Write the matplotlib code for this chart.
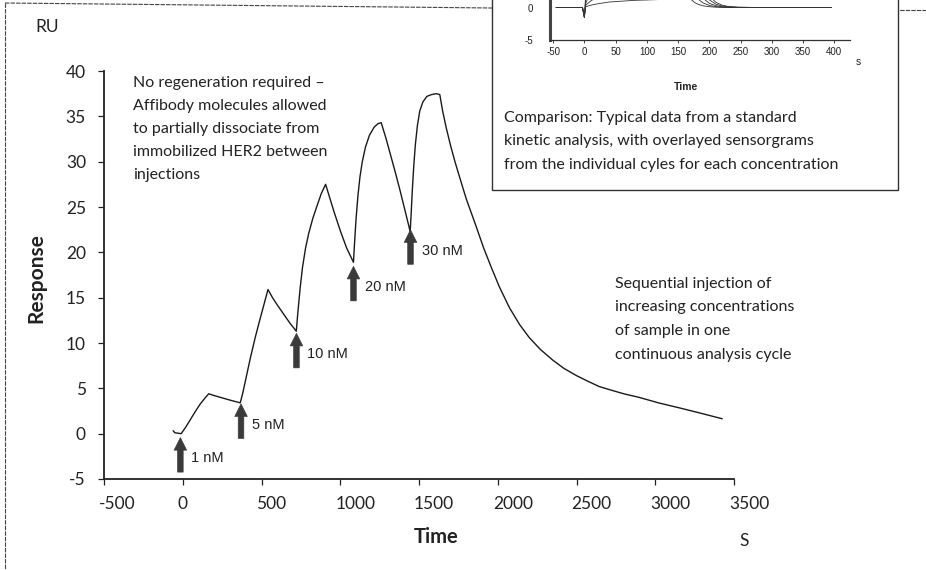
import numpy as np
import matplotlib
matplotlib.use('Agg')
import matplotlib.pyplot as plt
from matplotlib.lines import Line2D
from matplotlib.patches import Rectangle
from matplotlib.transforms import ScaledTranslation

plt.rcParams['font.family'] = ['Lato', 'DejaVu Sans']
plt.rcParams['axes.unicode_minus'] = False

# single-cycle sensorgram, time (s) and response (RU)
time = [-60, -50, -10, 20, 50, 80, 110, 140, 165, 200, 250, 300, 365,
        380, 400, 430, 460, 490, 515, 541, 570, 600, 640, 680, 721,
        730, 745, 760, 780, 800, 825, 850, 880, 907,
        930, 960, 1000, 1040, 1084,
        1090, 1100, 1112, 1125, 1140, 1160, 1185, 1215, 1240, 1260,
        1290, 1320, 1350, 1380, 1410, 1444,
        1450, 1458, 1467, 1477, 1490, 1505, 1525, 1550, 1580, 1610, 1632,
        1650, 1672, 1700, 1730, 1756, 1800, 1862, 1910, 1960, 2010, 2074,
        2140, 2200, 2270, 2350, 2420, 2500, 2570, 2644, 2720, 2800, 2898,
        3020, 3152, 3290, 3424]
response = [0.3, 0.1, 0.0, 0.75, 1.6, 2.45, 3.25, 3.9, 4.4, 4.2, 3.95, 3.7, 3.4,
            4.4, 6.0, 8.4, 10.6, 12.6, 14.2, 15.9, 15.0, 14.2, 13.2, 12.2, 11.3,
            13.2, 16.0, 18.3, 20.5, 22.1, 23.7, 25.0, 26.5, 27.5,
            26.2, 24.5, 22.4, 20.5, 18.9,
            20.8, 23.6, 26.2, 28.3, 30.0, 31.6, 32.9, 33.8, 34.2, 34.3,
            32.6, 30.7, 28.8, 26.8, 24.7, 22.3,
            24.2, 27.0, 29.6, 31.9, 34.0, 35.6, 36.6, 37.2, 37.4, 37.5, 37.4,
            35.6, 33.8, 31.8, 29.9, 28.4, 25.9, 22.9, 20.5, 18.3, 16.2, 13.9,
            12.0, 10.6, 9.3, 8.1, 7.2, 6.4, 5.8, 5.2, 4.8, 4.4, 4.0,
            3.4, 2.85, 2.25, 1.65]

inj_times = [-15, 370, 722, 1084, 1446]
inj_labels = ['1 nM', '5 nM', '10 nM', '20 nM', '30 nM']

# inset: overlayed sensorgrams from a standard multi-cycle run
inset_time = [-45, -20, -3, 0, 2, 5, 10, 20, 40, 80, 130, 170,
              175, 180, 185, 190, 200, 210, 220, 230, 245, 270, 320, 395]
inset_c1 = [0, 0, 0, -1.5, 0.1, 0.2, 0.35, 0.55, 0.85, 1.1, 1.25, 1.3,
            0.87, 0.58, 0.39, 0.26, 0.12, 0.05, 0.02, 0.01, 0, 0, 0, 0]
inset_c2 = [0, 0, 0, -1.5, 0.3, 0.6, 1.0, 1.6, 2.4, 3.1, 3.4, 3.5,
            2.35, 1.57, 1.05, 0.7, 0.32, 0.14, 0.06, 0.03, 0.01, 0, 0, 0]
inset_c3 = [0, 0, 0, -1.5, 0.6, 1.3, 2.2, 3.5, 5.0, 6.3, 6.9, 7.0,
            4.7, 3.14, 2.1, 1.41, 0.64, 0.29, 0.13, 0.06, 0.02, 0, 0, 0]
inset_c4 = [0, 0, 0, -1.5, 1.1, 2.5, 4.3, 7.0, 10.0, 12.2, 12.9, 13.0,
            8.7, 5.8, 3.9, 2.6, 1.18, 0.53, 0.24, 0.11, 0.03, 0.01, 0, 0]
inset_c5 = [0, 0, 0, -1.5, 1.8, 4.0, 7.0, 11.0, 15.5, 18.8, 19.8, 20.0,
            13.4, 9.0, 6.0, 4.0, 1.8, 0.82, 0.37, 0.16, 0.05, 0.01, 0, 0]

note_left = ['No regeneration required \u2013',
             'Affibody molecules allowed',
             'to partially dissociate from',
             'immobilized HER2 between',
             'injections']
note_right = ['Sequential injection of',
              'increasing concentrations',
              'of sample in one',
              'continuous analysis cycle']
note_box = ['Comparison: Typical data from a standard',
            'kinetic analysis, with overlayed sensorgrams',
            'from the individual cyles for each concentration']

W, H = 926, 570
fig = plt.figure(figsize=(W / 100, H / 100), dpi=100)


def fx(px):
    return px / W


def fy(py):
    return 1 - py / H


ink = '#222222'

# main axes
ax = fig.add_axes([fx(104), fy(479), fx(734) - fx(104), fy(71) - fy(479)])
ax.patch.set_visible(False)
ax.plot(time, response, color='#1a1a1a', lw=1.0)
ax.set_xlim(-500, 3500)
ax.set_ylim(-5, 40)
ax.set_xticks(range(-500, 3501, 500))
ax.set_yticks(range(-5, 41, 5))
for s in ['top', 'right']:
    ax.spines[s].set_visible(False)
for s in ['left', 'bottom']:
    ax.spines[s].set_linewidth(1.3)
    ax.spines[s].set_color(ink)
ax.tick_params(axis='both', direction='out', length=4, width=0.9,
               labelsize=12.5, colors=ink)
ax.tick_params(axis='y', pad=9)
ax.tick_params(axis='x', pad=8)
shift = ScaledTranslation(-5 / 100, 0, fig.dpi_scale_trans)
for lbl in ax.get_xticklabels():
    lbl.set_horizontalalignment('left')
    lbl.set_transform(lbl.get_transform() + shift)

# injection arrows
for t, lab in zip(inj_times, inj_labels):
    y_tip = np.interp(t, time, response) - 0.45
    ax.annotate('', xy=(t, y_tip), xytext=(t, y_tip - 3.8),
                arrowprops=dict(arrowstyle='simple,head_length=0.9,head_width=0.9,tail_width=0.4',
                                mutation_scale=10, fc='#3a3a3a', ec='#3a3a3a',
                                lw=0.5, shrinkA=0, shrinkB=0))
    ax.text(t + 70, y_tip - 2.3, lab, fontsize=10.5, family='Liberation Sans',
            va='center', ha='left', color=ink)

# axis labels
fig.text(fx(47), fy(27), 'RU', fontsize=12.5, color=ink, ha='center', va='center')
fig.text(fx(36), fy(278), 'Response', fontsize=15, fontweight='bold', color=ink,
         rotation=90, ha='center', va='center')
fig.text(fx(436), fy(537), 'Time', fontsize=14.5, fontweight='bold', color=ink,
         ha='center', va='center')
fig.text(fx(744), fy(541), 'S', fontsize=12.5, color=ink, ha='center', va='center')

for i, line in enumerate(note_left):
    fig.text(fx(133), fy(83 + i * 23), line, fontsize=11.5, color=ink, va='center')
for i, line in enumerate(note_right):
    fig.text(fx(615), fy(284 + i * 23.5), line, fontsize=11.5, color=ink, va='center')

# frame lines of the page
fig.add_artist(Line2D([fx(5), fx(5)], [fy(3), fy(570)], transform=fig.transFigure,
                      color='#444444', lw=0.8, ls=(0, (4, 1))))
fig.add_artist(Line2D([fx(5), fx(492)], [fy(3), fy(8)], transform=fig.transFigure,
                      color='#444444', lw=0.8, ls=(0, (4, 1))))
fig.add_artist(Line2D([fx(883), fx(926)], [fy(10), fy(10)], transform=fig.transFigure,
                      color='#444444', lw=0.8, ls=(0, (4, 1))))

# comparison box
box = Rectangle((fx(492), fy(190)), fx(898) - fx(492), fy(-5) - fy(190),
                transform=fig.transFigure, fc='white', ec='#333333', lw=1.0, zorder=2)
fig.add_artist(box)
for i, line in enumerate(note_box):
    fig.text(fx(504), fy(118 + i * 23.5), line, fontsize=11.5, color=ink,
             va='center', zorder=4)

ins = fig.add_axes([fx(550), fy(40), fx(850) - fx(550), 30 * 6.5 / H], zorder=3)
ins.patch.set_visible(False)
for c in [inset_c1, inset_c2, inset_c3, inset_c4, inset_c5]:
    ins.plot(inset_time, c, color='#333333', lw=0.6)
ins.set_xlim(-55, 425)
ins.set_ylim(-5, 25)
ins.set_xticks(range(-50, 401, 50))
ins.set_yticks([-5, 0])
for s in ['top', 'right']:
    ins.spines[s].set_visible(False)
ins.spines['left'].set_linewidth(2.2)
ins.spines['left'].set_color('#444444')
ins.spines['bottom'].set_linewidth(0.9)
ins.spines['bottom'].set_color('#333333')
ins.tick_params(axis='both', direction='out', length=2, width=0.6, labelsize=7,
                colors=ink, pad=3)
ins.tick_params(axis='y', length=0, pad=12)
for lbl in ins.get_xticklabels() + ins.get_yticklabels():
    lbl.set_family('Liberation Sans')
fig.text(fx(858), fy(62), 's', fontsize=7.5, family='Liberation Sans',
         color=ink, ha='center', va='center', zorder=4)
fig.text(fx(686), fy(87), 'Time', fontsize=7.5, family='Liberation Sans',
         fontweight='bold', color=ink, ha='center', va='center', zorder=4)

fig.savefig('out.png', dpi=100)
